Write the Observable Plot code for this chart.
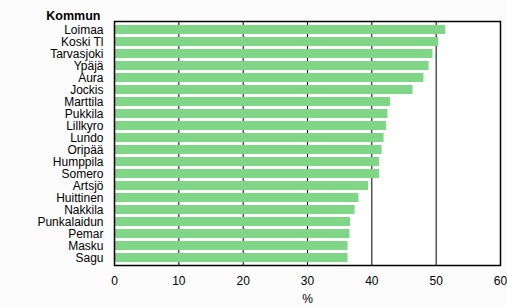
<!DOCTYPE html>
<html>
<head>
<meta charset="utf-8">
<script src="https://cdn.jsdelivr.net/npm/d3@7"></script>
<script src="https://cdn.jsdelivr.net/npm/@observablehq/plot@0.6"></script>
<style>
  html, body { margin: 0; padding: 0; background: #fcfcfc; }
  svg { font-family: "Liberation Sans", Arial, sans-serif; }
</style>
</head>
<body>
<div id="chart"></div>
<script>
const kommuner = ["Loimaa","Koski Tl","Tarvasjoki","Ypäjä","Aura","Jockis","Marttila","Pukkila","Lillkyro","Lundo","Oripää","Humppila","Somero","Artsjö","Huittinen","Nakkila","Punkalaidun","Pemar","Masku","Sagu"];
const values = [51.5,50.4,49.5,48.9,48.1,46.4,42.9,42.5,42.3,41.9,41.6,41.2,41.2,39.5,38.0,37.4,36.7,36.6,36.3,36.3];
const xTicks = [0,10,20,30,40,50,60];
const gridValues = [10,20,30,40,50];
const titleText = "Kommun";
const xLabel = "%";

const data = kommuner.map((k, i) => ({kommun: k, value: values[i]}));

const chart = Plot.plot({
  width: 507,
  height: 307,
  marginTop: 21,
  marginBottom: 42,
  marginLeft: 114,
  marginRight: 7,
  style: {fontSize: "12px", background: "transparent", color: "black"},
  x: {domain: [0, 60], ticks: xTicks, tickSize: 0, tickPadding: 11, label: null},
  y: {domain: kommuner, padding: 0.27, tickSize: 0, tickPadding: 11, label: null},
  marks: [
    Plot.frame({fill: "white"}),
    Plot.ruleX(gridValues, {stroke: "black", strokeWidth: 1}),
    Plot.barX(data, {x: "value", y: "kommun", fill: "#7fd686"}),
    Plot.frame({stroke: "black", strokeWidth: 1.5}),
    Plot.axisX({ticks: xTicks, tickSize: 0, tickPadding: 11, label: null, fontSize: 12}),
    Plot.axisY({tickSize: 0, tickPadding: 11, label: null, fontSize: 12}),
    Plot.text([titleText], {frameAnchor: "top-left", dx: -14, dy: -10, textAnchor: "end", fontWeight: "bold", fontSize: 12.5}),
    Plot.text([xLabel], {frameAnchor: "bottom", dy: 37, fontSize: 12})
  ]
});
document.getElementById("chart").appendChild(chart);
</script>
</body>
</html>
